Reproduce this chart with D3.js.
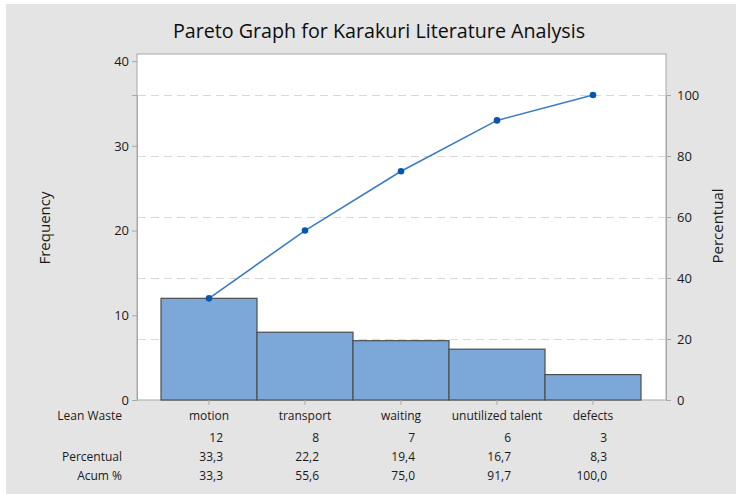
<!DOCTYPE html>
<html>
<head>
<meta charset="utf-8">
<script src="https://cdn.jsdelivr.net/npm/d3@7"></script>
<style>
  html, body { margin: 0; padding: 0; background: #ffffff; }
  svg { display: block; }
  text { font-family: "Open Sans", "Noto Sans", sans-serif; fill: #1a1a1a; }
</style>
</head>
<body>
<svg id="chart" width="736" height="494"></svg>
<script>
// ---- data ----
const categories = ["motion", "transport", "waiting", "unutilized talent", "defects"];
const counts = [12, 8, 7, 6, 3];
const percentLabels = ["33,3", "22,2", "19,4", "16,7", "8,3"];
const cumPercentLabels = ["33,3", "55,6", "75,0", "91,7", "100,0"];
const cumCounts = [12, 20, 27, 33, 36];
const leftTicks = [0, 10, 20, 30, 40];
const rightTicks = [0, 20, 40, 60, 80, 100];
const rowLabels = ["Lean Waste", "", "Percentual", "Acum %"];

// ---- layout ----
const W = 736, H = 494;
const plot = { left: 137, right: 666, top: 54, bottom: 400 };
const total = d3.sum(counts);

const svg = d3.select("#chart");

// background
svg.append("rect").attr("x", 6).attr("y", 4).attr("width", W - 6).attr("height", H - 4)
  .attr("fill", "#e4e4e4");

// title
svg.append("text").attr("x", 379).attr("y", 38).attr("text-anchor", "middle")
  .style("font-size", "19.7px").style("fill", "#0d0d0d")
  .text("Pareto Graph for Karakuri Literature Analysis");

// scales
const x = d3.scaleBand().domain(categories).range([161, 641]).padding(0);
const yL = d3.scaleLinear().domain([0, total]).range([plot.bottom, 95]);
const yR = d3.scaleLinear().domain([0, 100]).range([plot.bottom, 95]);

// plot area
svg.append("rect").attr("x", plot.left).attr("y", plot.top)
  .attr("width", plot.right - plot.left).attr("height", plot.bottom - plot.top)
  .attr("fill", "#ffffff").attr("stroke", "#a8a8a8").attr("stroke-width", 1);

// gridlines (right axis)
svg.append("g").selectAll("line").data(rightTicks.filter(d => d > 0)).join("line")
  .attr("x1", plot.left + 1).attr("x2", plot.right - 1)
  .attr("y1", d => Math.round(yR(d)) + 0.5).attr("y2", d => Math.round(yR(d)) + 0.5)
  .attr("stroke", "#d8d8d8").attr("stroke-width", 1).attr("stroke-dasharray", "8,5");

// bars
svg.append("g").selectAll("rect").data(categories).join("rect")
  .attr("x", d => x(d)).attr("width", x.bandwidth())
  .attr("y", (d, i) => yL(counts[i])).attr("height", (d, i) => plot.bottom - yL(counts[i]))
  .attr("fill", "#7ba7d9").attr("stroke", "#4d4d4d").attr("stroke-width", 1.2);

// left axis
const gL = svg.append("g").attr("transform", `translate(${plot.left},0)`)
  .call(d3.axisLeft(yL).tickValues(leftTicks).tickSize(5).tickPadding(3));
gL.select(".domain").attr("stroke", "#a8a8a8");
gL.selectAll(".tick line").attr("stroke", "#a8a8a8");
gL.selectAll(".tick text").style("font-size", "13px").style("font-family", "'Open Sans', sans-serif").attr("fill", "#1a1a1a");

// right axis
const gR = svg.append("g").attr("transform", `translate(${plot.right},0)`)
  .call(d3.axisRight(yR).tickValues(rightTicks).tickSize(5).tickPadding(6));
gR.select(".domain").attr("stroke", "#a8a8a8");
gR.selectAll(".tick line").attr("stroke", "#a8a8a8");
gR.selectAll(".tick text").style("font-size", "13px").style("font-family", "'Open Sans', sans-serif").attr("fill", "#1a1a1a");

// bottom ticks
const gB = svg.append("g").attr("transform", `translate(0,${plot.bottom})`)
  .call(d3.axisBottom(x).tickSize(5).tickFormat(""));
gB.select(".domain").remove();
gB.selectAll(".tick line").attr("stroke", "#a8a8a8");

// cumulative line
const line = d3.line().x((d, i) => x(categories[i]) + x.bandwidth() / 2).y(d => yL(d));
svg.append("path").datum(cumCounts).attr("d", line)
  .attr("fill", "none").attr("stroke", "#3a7cc6").attr("stroke-width", 1.6);
svg.append("g").selectAll("circle").data(cumCounts).join("circle")
  .attr("cx", (d, i) => x(categories[i]) + x.bandwidth() / 2).attr("cy", d => yL(d))
  .attr("r", 3.3).attr("fill", "#0a56aa");

// axis titles
svg.append("text").attr("transform", "translate(50,228) rotate(-90)")
  .attr("text-anchor", "middle").style("font-size", "15px").text("Frequency");
svg.append("text").attr("transform", "translate(723,226) rotate(-90)")
  .attr("text-anchor", "middle").style("font-size", "15px").text("Percentual");

// table
const rowY = [420, 442, 461, 480];
const tbl = svg.append("g").style("font-size", "12px");
tbl.selectAll("text.rl").data(rowLabels).join("text").attr("class", "rl")
  .attr("x", 122).attr("y", (d, i) => rowY[i]).attr("text-anchor", "end").text(d => d);
tbl.selectAll("text.cat").data(categories).join("text").attr("class", "cat")
  .attr("x", d => x(d) + x.bandwidth() / 2).attr("y", rowY[0]).attr("text-anchor", "middle").text(d => d);
const rows = [counts.map(String), percentLabels, cumPercentLabels];
rows.forEach((vals, r) => {
  tbl.selectAll(null).data(vals).join("text")
    .attr("x", (d, i) => x(categories[i]) + x.bandwidth() / 2 + 14)
    .attr("y", rowY[r + 1]).attr("text-anchor", "end").text(d => d);
});
</script>
</body>
</html>
